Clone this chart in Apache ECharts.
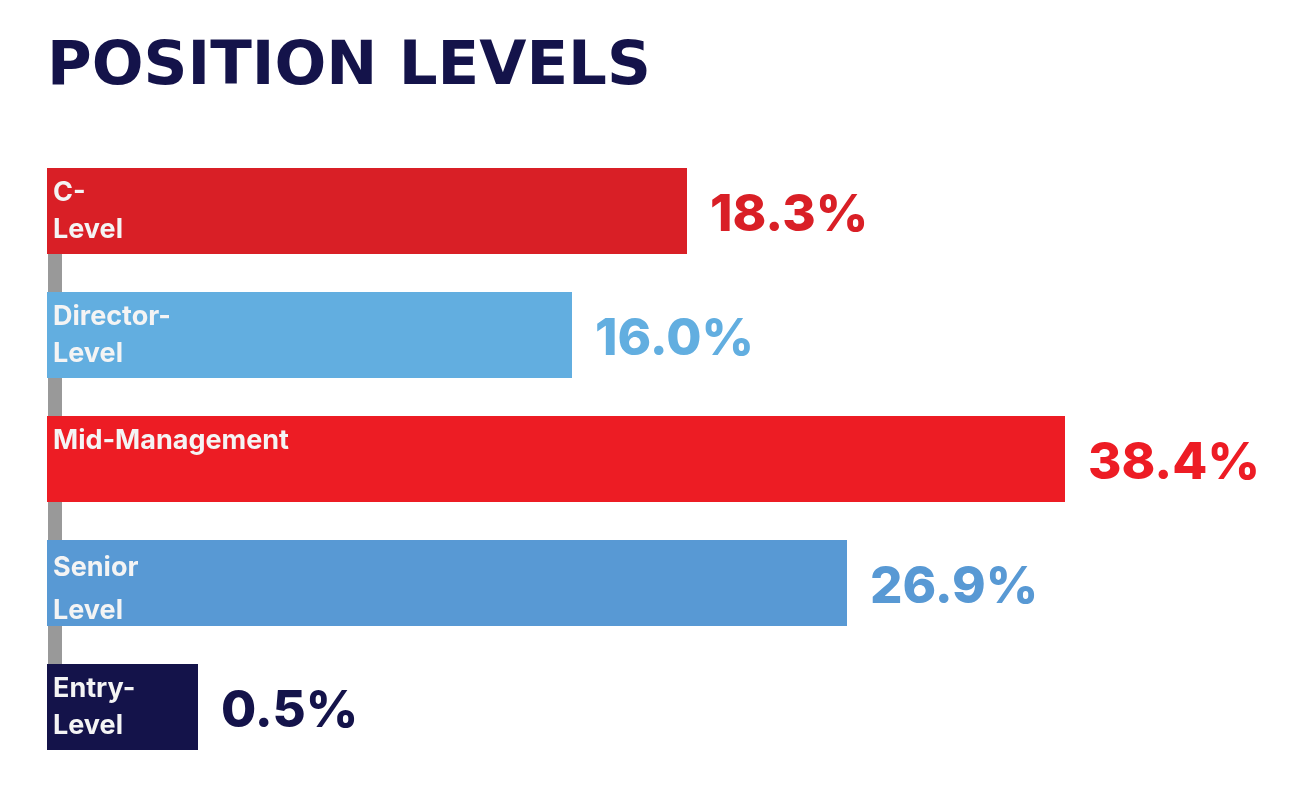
<!DOCTYPE html>
<html>
<head>
<meta charset="utf-8">
<title>Position Levels</title>
<script src="https://cdn.jsdelivr.net/npm/echarts@6/dist/echarts.min.js"></script>
<style>
  html, body { margin: 0; padding: 0; background: #ffffff; }
  #chart { width: 1292px; height: 792px; }
</style>
</head>
<body>
<div id="chart"></div>
<script>
// 数据
const categories = ["C-\nLevel", "Director-\nLevel", "Mid-Management", "Senior\nLevel", "Entry-\nLevel"];
const shares = [18.3, 16.0, 38.4, 26.9, 0.5];
// infographic bars are not drawn to scale, lengths read off the picture
const barLengths = [64.0, 52.5, 101.8, 80.0, 15.1];
const colors = ["#d91f26", "#62aee0", "#ed1c24", "#5899d4", "#14134a"];

const chart = echarts.init(document.getElementById("chart"));

const font = "Inter, 'Open Sans', sans-serif";

const option = {
  animation: false,
  title: {
    text: "POSITION LEVELS",
    left: 42,
    top: 33,
    textStyle: {
      fontFamily: "'DejaVu Sans', sans-serif",
      fontSize: 61,
      fontWeight: "bold",
      color: "#14134a"
    }
  },
  grid: { left: 47, right: 45, top: 211, bottom: 85 },
  xAxis: {
    type: "value",
    min: 0,
    max: 120,
    show: false
  },
  yAxis: {
    type: "category",
    inverse: true,
    boundaryGap: false,
    offset: -8,
    data: categories,
    axisLine: { show: true, onZero: false, lineStyle: { color: "#999999", width: 14, cap: "butt" } },
    axisTick: { show: false },
    axisLabel: { show: false },
    splitLine: { show: false }
  },
  series: [
    {
      type: "bar",
      barWidth: 86,
      z: 3,
      data: barLengths.map((v, i) => ({
        value: v,
        itemStyle: { color: colors[i] },
        label: { lineHeight: i === 3 ? 43 : 37 }
      })),
      label: {
        show: true,
        position: "insideTopLeft",
        distance: 6,
        formatter: (p) => categories[p.dataIndex],
        fontFamily: font,
        fontSize: 27,
        fontWeight: 700,
        color: "#f4f4f4"
      }
    },
    {
      type: "bar",
      barWidth: 86,
      barGap: "-100%",
      z: 4,
      itemStyle: { color: "transparent" },
      data: barLengths.map((v, i) => ({
        value: v,
        label: { color: colors[i] }
      })),
      label: {
        show: true,
        position: "right",
        distance: 23,
        offset: [0, 5],
        formatter: (p) => shares[p.dataIndex].toFixed(1) + "%",
        fontFamily: font,
        fontSize: 51,
        fontWeight: 800
      }
    }
  ]
};

option && chart.setOption(option);
</script>
</body>
</html>
